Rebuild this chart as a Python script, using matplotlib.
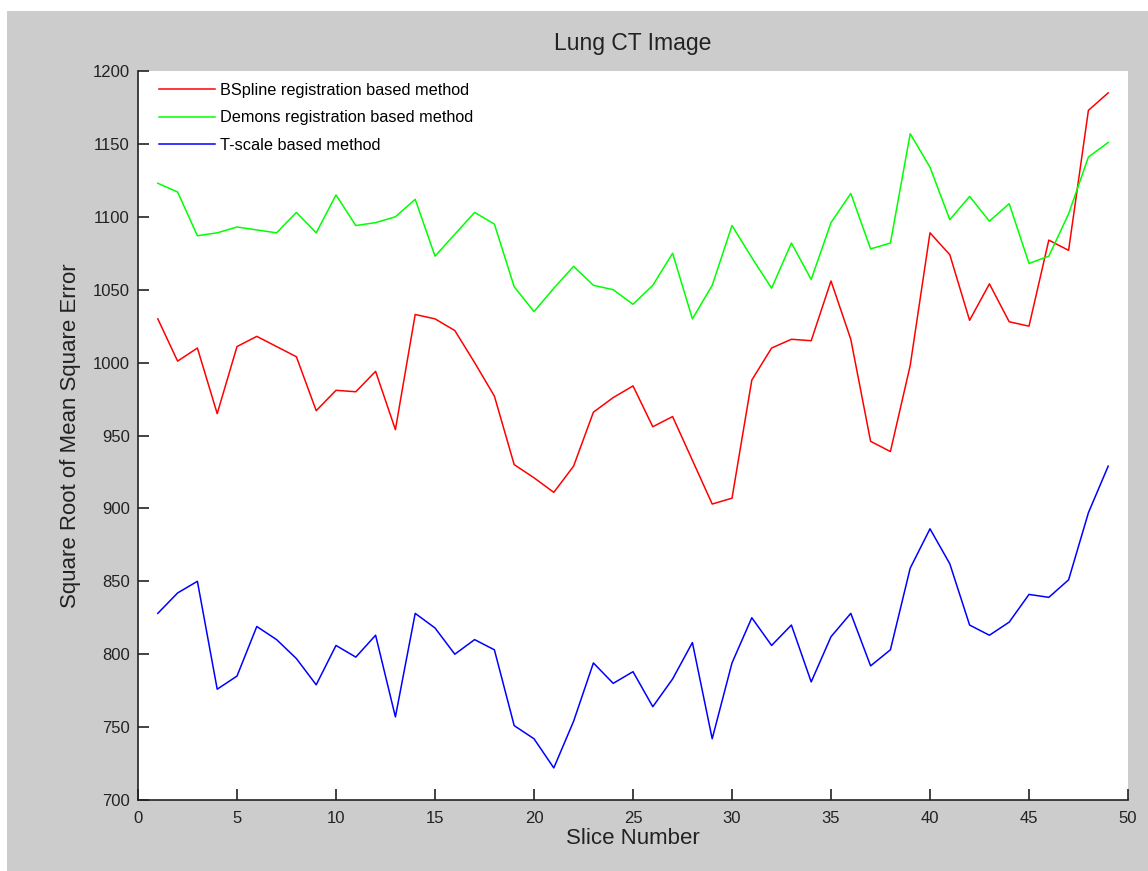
import numpy as np
import matplotlib.pyplot as plt
from matplotlib.patches import Rectangle

plt.rcParams['font.family'] = ['Liberation Sans', 'DejaVu Sans']

# Data
slices = np.arange(1, 50)
bspline = [1030, 1001, 1010, 965, 1011, 1018, 1011, 1004, 967, 981,
           980, 994, 954, 1033, 1030, 1022, 1000, 977, 930, 921,
           911, 929, 966, 976, 984, 956, 963, 933, 903, 907,
           988, 1010, 1016, 1015, 1056, 1016, 946, 939, 998, 1089,
           1074, 1029, 1054, 1028, 1025, 1084, 1077, 1173, 1185]
demons = [1123, 1117, 1087, 1089, 1093, 1091, 1089, 1103, 1089, 1115,
          1094, 1096, 1100, 1112, 1073, 1088, 1103, 1095, 1052, 1035,
          1051, 1066, 1053, 1050, 1040, 1053, 1075, 1030, 1053, 1094,
          1072, 1051, 1082, 1057, 1096, 1116, 1078, 1082, 1157, 1134,
          1098, 1114, 1097, 1109, 1068, 1073, 1102, 1141, 1151]
tscale = [828, 842, 850, 776, 785, 819, 810, 797, 779, 806,
          798, 813, 757, 828, 818, 800, 810, 803, 751, 742,
          722, 754, 794, 780, 788, 764, 783, 808, 742, 794,
          825, 806, 820, 781, 812, 828, 792, 803, 859, 886,
          862, 820, 813, 822, 841, 839, 851, 897, 929]
labels = ['BSpline registration based method',
          'Demons registration based method',
          'T-scale based method']

fig = plt.figure(figsize=(11.48, 8.71), dpi=100)
fig.patch.set_facecolor('white')
# grey window background, leaving the thin white strip at top/left
fig.patches.append(Rectangle((7 / 1148, 0), 1, 1 - 11 / 871,
                             transform=fig.transFigure, facecolor='#cccccc',
                             edgecolor='none', zorder=-10))

ax = fig.add_axes([138 / 1148, 1 - 800 / 871, 990 / 1148, 729 / 871])
ax.plot(slices, bspline, color='#ff0000', lw=1.1, label=labels[0])
ax.plot(slices, demons, color='#00ff00', lw=1.1, label=labels[1])
ax.plot(slices, tscale, color='#0000ff', lw=1.1, label=labels[2])

ax.set_xlim(0, 50)
ax.set_ylim(700, 1200)
ax.set_xticks(range(0, 51, 5))
ax.set_yticks(range(700, 1201, 50))
ax.spines['top'].set_visible(False)
ax.spines['right'].set_visible(False)
for s in ['left', 'bottom']:
    ax.spines[s].set_color('#222222')
    ax.spines[s].set_linewidth(1.2)
ax.tick_params(direction='in', length=8, width=1.2, colors='#222222',
               labelsize=12)
ax.tick_params(axis='y', pad=6)
ax.tick_params(axis='x', pad=8)

ax.set_title('Lung CT Image', fontsize=16.5, color='#222222', pad=15)
ax.set_xlabel('Slice Number', fontsize=16, color='#222222', labelpad=1)
ax.set_ylabel('Square Root of Mean Square Error', fontsize=16,
              color='#222222', labelpad=8)

ax.legend(loc='upper left', bbox_to_anchor=(0.006, 1.004), frameon=False,
          fontsize=11.7, handlelength=3.5, handletextpad=0.3,
          labelspacing=0.78)

plt.savefig('out.png', dpi=100)
